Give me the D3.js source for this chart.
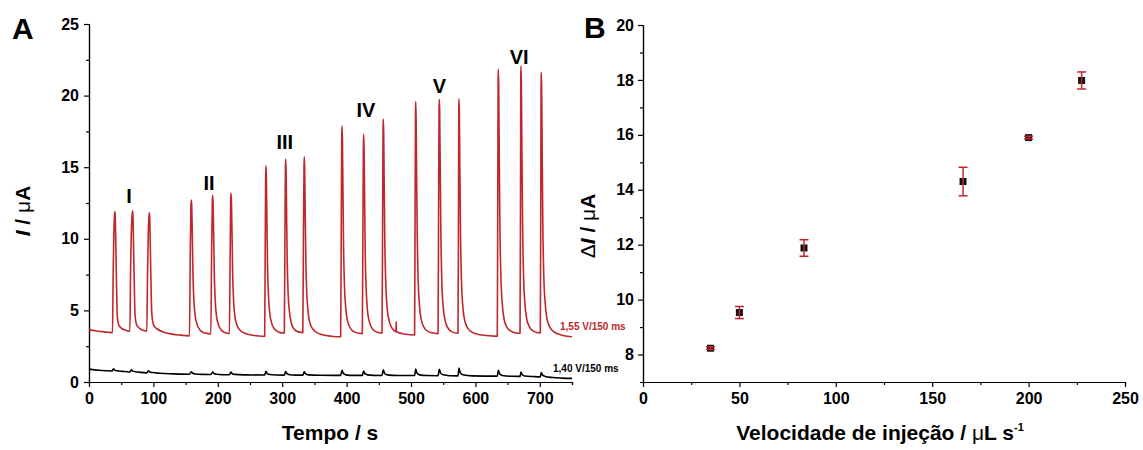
<!DOCTYPE html>
<html>
<head>
<meta charset="utf-8">
<script src="https://cdn.jsdelivr.net/npm/d3@7"></script>
<style>
  body { margin: 0; background: #fff; }
  svg { display: block; font-family: "Liberation Sans", Arial, sans-serif; }
  .axis path, .axis line { stroke: #000; stroke-width: 1.2; }
  .axis text { font-size: 16px; font-weight: bold; fill: #000; }
</style>
</head>
<body>
<div id="chart"></div>
<script>
const WIDTH = 1143;
const HEIGHT = 450;
const RED = "#c0272d";

// ---- panel A : amperometric traces, [time s, current uA]
const redTrace = [
  [0,3.66],[10,3.58],[20,3.52],[30,3.47],[36.5,3.45],[37.5,7.5],[38.8,10.8],[40,11.9],[40.6,11.7],[41.5,10],[42.5,7.5],[43.9,4.6],[46,4.0],[48,3.86],[52,3.7],[56,3.63],
  [63.5,3.55],[64.5,7.5],[66,10.8],[67.5,11.96],[68.2,11.7],[69,10],[70,7.5],[71.5,4.7],[73.5,4.05],[76,3.85],[80,3.7],[85,3.6],
  [89.8,3.55],[90.8,7.3],[92.2,10.7],[93.5,11.82],[94.2,11.6],[95,10],[96,7.5],[97.5,4.8],[99.5,4.1],[102,3.85],[106,3.7],[115,3.5],[125,3.38],[140,3.28],
  [156,3.22],[157.2,8.7],[158.3,12.3],[158.9,12.71],[159.6,12.2],[160.5,10],[161.5,7.4],[163,5.6],[165,4.6],[168,4.0],[172,3.65],[178,3.45],[185,3.38],
  [189.2,3.35],[190.4,9],[191.5,12.6],[192,13.04],[192.7,12.5],[193.6,10.2],[194.6,7.5],[196,5.7],[198,4.6],[201,4.0],[205,3.65],[211,3.45],
  [218,3.38],[219.2,9],[220,12.7],[220.5,13.18],[221.2,12.6],[222.1,10.3],[223.1,7.6],[224.5,5.7],[226.5,4.6],[229.5,4.0],[234,3.65],[241,3.42],[250,3.3],[262,3.22],
  [272.8,3.18],[273.7,10],[274.4,14.5],[274.8,15.1],[275.4,14.3],[276.2,11.5],[277.2,8.2],[278.7,6.0],[280.7,4.8],[283.7,4.1],[288,3.7],[294,3.5],
  [303.3,3.42],[304.3,10.3],[305,15],[305.4,15.57],[306,14.8],[306.8,11.8],[307.8,8.4],[309.3,6.1],[311.3,4.9],[314.3,4.1],[318.5,3.7],[325,3.5],
  [332,3.45],[333,10.4],[333.9,15.1],[334.3,15.73],[334.9,14.9],[335.7,11.9],[336.7,8.5],[338.2,6.2],[340.2,4.9],[343.2,4.1],[347.5,3.7],[354,3.45],[363,3.3],[376,3.2],
  [390.8,3.16],[391.8,11.5],[392.5,17.2],[392.9,17.88],[393.5,17.0],[394.3,13.5],[395.3,9.4],[396.8,6.6],[398.8,5.1],[401.8,4.2],[406,3.75],[412,3.5],[420,3.4],
  [424.4,3.38],[425.4,11.2],[426.1,16.6],[426.5,17.3],[427.1,16.4],[427.9,13.1],[428.9,9.1],[430.4,6.5],[432.4,5.0],[435.4,4.2],[439.6,3.75],[446,3.5],
  [455,3.42],[456,11.8],[456.6,17.7],[457,18.37],[457.6,17.4],[458.4,13.8],[459.4,9.6],[460.9,6.8],[462.9,5.2],[465.9,4.3],[470,3.8],[475,3.55],[476.6,3.5],[477,4.2],[477.4,3.55],[480,3.45],[490,3.35],
  [505.6,3.28],[506.4,12.5],[507,19],[507.3,19.57],[507.9,18.5],[508.7,14.6],[509.7,10.2],[511.2,7.0],[513.2,5.3],[516.2,4.3],[520.4,3.8],[527,3.52],[535,3.42],
  [542,3.38],[542.9,12.6],[543.6,19.1],[544,19.74],[544.6,18.7],[545.4,14.7],[546.4,10.3],[547.9,7.0],[549.9,5.3],[552.9,4.3],[557,3.8],[563,3.52],
  [573,3.4],[573.8,12.6],[574.2,19.1],[574.5,19.78],[575.1,18.7],[575.9,14.7],[576.9,10.3],[578.4,7.0],[580.4,5.3],[583.4,4.3],[587.6,3.8],[594,3.5],[605,3.32],[620,3.24],
  [634,3.2],[634.8,13.5],[635.3,21.2],[635.6,21.84],[636.2,20.6],[637,16.1],[638,11.1],[639.5,7.5],[641.5,5.6],[644.5,4.4],[648.7,3.85],[655,3.55],[663,3.42],
  [669.3,3.4],[670.1,13.7],[670.5,21.4],[670.8,22.07],[671.4,20.8],[672.2,16.2],[673.2,11.2],[674.7,7.5],[676.7,5.6],[679.7,4.4],[683.9,3.85],[690,3.55],
  [700.8,3.42],[701.6,13.4],[702,21],[702.3,21.63],[702.9,20.4],[703.7,16],[704.7,11.0],[706.2,7.4],[708.2,5.6],[711.2,4.4],[715.4,3.85],[722,3.5],[732,3.3],[742,3.2],[750,3.16]
];

const blackTrace = [
  [0,0.9],[15,0.82],[36,0.77],[38,0.92],[40,0.83],[44,0.78],[52,0.74],[63.5,0.7],[66,0.85],[68,0.76],[72,0.72],[80,0.67],
  [89.8,0.64],[92.5,0.79],[94.5,0.7],[98.5,0.66],[110,0.61],[130,0.57],[156,0.54],[158.9,0.72],[160.9,0.61],[164.9,0.56],[175,0.53],
  [189.2,0.52],[192,0.7],[194,0.59],[198,0.54],[207,0.51],[218,0.51],[220.5,0.69],[222.5,0.58],[226.5,0.53],[240,0.5],
  [272.8,0.49],[274.8,0.74],[276.8,0.59],[280.8,0.52],[290,0.49],[303.3,0.48],[305.4,0.73],[307.4,0.58],[311.4,0.51],[320,0.48],
  [332,0.48],[334.3,0.71],[336.3,0.57],[340.3,0.5],[360,0.47],[390.8,0.46],[392.9,0.81],[394.9,0.6],[398.9,0.5],[410,0.46],
  [424.4,0.46],[426.5,0.76],[428.5,0.58],[432.5,0.5],[442,0.46],[455,0.45],[457,0.85],[459,0.61],[463,0.5],[480,0.45],
  [505.6,0.45],[507.3,0.9],[509.3,0.63],[513.3,0.5],[525,0.45],[542,0.44],[544,0.89],[546,0.62],[550,0.5],[560,0.44],
  [573,0.43],[574.5,0.98],[576.5,0.65],[580.5,0.5],[595,0.43],[634,0.41],[635.6,0.81],[637.6,0.57],[641.6,0.46],[655,0.4],
  [669.3,0.39],[670.8,0.69],[672.8,0.51],[676.8,0.42],[690,0.38],[700.8,0.36],[702.3,0.66],[704.3,0.48],[708.3,0.39],[720,0.31],[735,0.27],[750,0.25]
];

const peakLabels = ["I", "II", "III", "IV", "V", "VI"];
const peakLabelTime = [62, 186.5, 304, 430, 544, 668];
const peakLabelCurrent = [13.0, 13.9, 16.8, 19.0, 20.7, 22.7];

const timeTicks = [0, 100, 200, 300, 400, 500, 600, 700];
const currentTicks = [0, 5, 10, 15, 20, 25];

// ---- panel B : peak current vs injection rate
const flowRate = [35, 50, 83.5, 166, 200, 227.5];
const deltaI = [8.23, 9.53, 11.88, 14.3, 15.9, 17.98];
const deltaIErr = [0.05, 0.22, 0.3, 0.52, 0.05, 0.31];

const flowTicks = [0, 50, 100, 150, 200, 250];
const deltaTicks = [8, 10, 12, 14, 16, 18, 20];

const svg = d3.select("#chart").append("svg")
  .attr("width", WIDTH).attr("height", HEIGHT)
  .attr("viewBox", `0 0 ${WIDTH} ${HEIGHT}`);

svg.append("rect").attr("width", WIDTH).attr("height", HEIGHT).attr("fill", "#fff");

function minorTicks(from, to, step) {
  const out = [];
  for (let v = from; v <= to + 1e-9; v += step) out.push(+v.toFixed(3));
  return out;
}

// ---------- panel A
const xA = d3.scaleLinear().domain([0, 750]).range([89, 572]);
const yA = d3.scaleLinear().domain([0, 25]).range([382, 24]);

svg.append("g").attr("class", "axis")
  .attr("transform", `translate(0,${yA(0)})`)
  .call(d3.axisBottom(xA).tickValues(minorTicks(50, 750, 100)).tickSize(3).tickFormat(""));
svg.append("g").attr("class", "axis")
  .attr("transform", `translate(0,${yA(0)})`)
  .call(d3.axisBottom(xA).tickValues(timeTicks).tickSize(5).tickPadding(6).tickSizeOuter(0));

svg.append("g").attr("class", "axis")
  .attr("transform", `translate(${xA(0)},0)`)
  .call(d3.axisLeft(yA).tickValues(minorTicks(2.5, 22.5, 5)).tickSize(3).tickFormat(""));
svg.append("g").attr("class", "axis")
  .attr("transform", `translate(${xA(0)},0)`)
  .call(d3.axisLeft(yA).tickValues(currentTicks).tickSize(5).tickPadding(5).tickSizeOuter(0));

const lineA = d3.line()
  .x(d => xA(d[0]))
  .y(d => yA(d[1]))
  .curve(d3.curveMonotoneX);

svg.append("path").datum(blackTrace)
  .attr("d", lineA).attr("fill", "none")
  .attr("stroke", "#000").attr("stroke-width", 1.6);

svg.append("path").datum(redTrace)
  .attr("d", lineA).attr("fill", "none")
  .attr("stroke", RED).attr("stroke-width", 1.6)
  .attr("stroke-linejoin", "round");

svg.selectAll("text.peak").data(peakLabels).enter().append("text")
  .attr("class", "peak")
  .attr("x", (d, i) => xA(peakLabelTime[i]))
  .attr("y", (d, i) => yA(peakLabelCurrent[i]))
  .attr("dy", "0.36em")
  .attr("text-anchor", "middle")
  .attr("font-size", 20).attr("font-weight", "bold")
  .text(d => d);

svg.append("text").attr("x", 560).attr("y", 330)
  .attr("font-size", 10).attr("font-weight", "bold").attr("fill", RED)
  .text("1,55 V/150 ms");
svg.append("text").attr("x", 553).attr("y", 372)
  .attr("font-size", 10).attr("font-weight", "bold").attr("fill", "#000")
  .text("1,40 V/150 ms");

svg.append("text").attr("x", 12).attr("y", 39)
  .attr("font-size", 30).attr("font-weight", "bold").text("A");

const yTitleA = svg.append("text")
  .attr("transform", "translate(30,211) rotate(-90)")
  .attr("text-anchor", "middle")
  .attr("font-size", 21).attr("font-weight", "bold");
yTitleA.append("tspan").attr("font-style", "italic").text("I");
yTitleA.append("tspan").text(" / ");
yTitleA.append("tspan").attr("font-weight", "normal").text("μ");
yTitleA.append("tspan").text("A");

svg.append("text").attr("x", 330).attr("y", 440)
  .attr("text-anchor", "middle")
  .attr("font-size", 21).attr("font-weight", "bold")
  .text("Tempo / s");

// ---------- panel B
const xB = d3.scaleLinear().domain([0, 250]).range([643, 1125]);
const yB = d3.scaleLinear().domain([7, 20]).range([382, 25]);

svg.append("g").attr("class", "axis")
  .attr("transform", `translate(0,${yB(7)})`)
  .call(d3.axisBottom(xB).tickValues(minorTicks(25, 225, 50)).tickSize(3).tickFormat(""));
svg.append("g").attr("class", "axis")
  .attr("transform", `translate(0,${yB(7)})`)
  .call(d3.axisBottom(xB).tickValues(flowTicks).tickSize(5).tickPadding(6).tickSizeOuter(0));

svg.append("g").attr("class", "axis")
  .attr("transform", `translate(${xB(0)},0)`)
  .call(d3.axisLeft(yB).tickValues(minorTicks(9, 19, 2)).tickSize(3).tickFormat(""));
svg.append("g").attr("class", "axis")
  .attr("transform", `translate(${xB(0)},0)`)
  .call(d3.axisLeft(yB).tickValues(deltaTicks).tickSize(5).tickPadding(4).tickSizeOuter(0));

const points = flowRate.map((x, i) => ({ x, y: deltaI[i], e: deltaIErr[i] }));

svg.selectAll("rect.pt").data(points).enter().append("rect")
  .attr("class", "pt")
  .attr("x", d => xB(d.x) - 3.5).attr("y", d => yB(d.y) - 3.5)
  .attr("width", 7).attr("height", 7)
  .attr("fill", "#111");

const err = svg.selectAll("g.err").data(points).enter().append("g")
  .attr("class", "err")
  .attr("stroke", RED).attr("stroke-width", 1.5);
err.append("line")
  .attr("x1", d => xB(d.x)).attr("x2", d => xB(d.x))
  .attr("y1", d => yB(d.y - d.e)).attr("y2", d => yB(d.y + d.e));
err.append("line")
  .attr("x1", d => xB(d.x) - 4.5).attr("x2", d => xB(d.x) + 4.5)
  .attr("y1", d => yB(d.y + d.e)).attr("y2", d => yB(d.y + d.e));
err.append("line")
  .attr("x1", d => xB(d.x) - 4.5).attr("x2", d => xB(d.x) + 4.5)
  .attr("y1", d => yB(d.y - d.e)).attr("y2", d => yB(d.y - d.e));

svg.append("text").attr("x", 584).attr("y", 38)
  .attr("font-size", 30).attr("font-weight", "bold").text("B");

const yTitleB = svg.append("text")
  .attr("transform", "translate(595,226) rotate(-90)")
  .attr("text-anchor", "middle")
  .attr("font-size", 21).attr("font-weight", "bold");
yTitleB.append("tspan").attr("font-weight", "normal").text("Δ");
yTitleB.append("tspan").attr("font-style", "italic").text("I");
yTitleB.append("tspan").text(" / ");
yTitleB.append("tspan").attr("font-weight", "normal").text("μ");
yTitleB.append("tspan").text("A");

const xTitleB = svg.append("text").attr("x", 880).attr("y", 440)
  .attr("text-anchor", "middle")
  .attr("font-size", 21).attr("font-weight", "bold");
xTitleB.append("tspan").text("Velocidade de injeção / ");
xTitleB.append("tspan").attr("font-weight", "normal").text("μ");
xTitleB.append("tspan").text("L s");
xTitleB.append("tspan").attr("font-size", 11).attr("dy", -9).text("-1");
</script>
</body>
</html>
